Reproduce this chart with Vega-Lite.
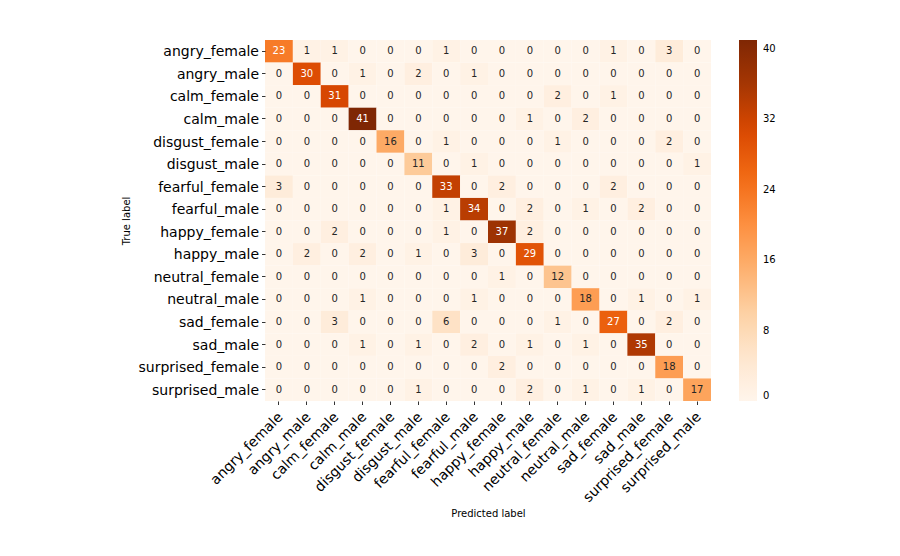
{
  "$schema": "https://vega.github.io/schema/vega-lite/v6.json",
  "width": 446,
  "height": 361,
  "autosize": "none",
  "padding": {"left": 265, "top": 40, "right": 189, "bottom": 155},
  "background": "white",
  "config": {
    "font": "DejaVu Sans",
    "view": {"stroke": null}
  },
  "data": {
    "values": [
      {"t":"angry_female","r":[23,1,1,0,0,0,1,0,0,0,0,0,1,0,3,0]},
      {"t":"angry_male","r":[0,30,0,1,0,2,0,1,0,0,0,0,0,0,0,0]},
      {"t":"calm_female","r":[0,0,31,0,0,0,0,0,0,0,2,0,1,0,0,0]},
      {"t":"calm_male","r":[0,0,0,41,0,0,0,0,0,1,0,2,0,0,0,0]},
      {"t":"disgust_female","r":[0,0,0,0,16,0,1,0,0,0,1,0,0,0,2,0]},
      {"t":"disgust_male","r":[0,0,0,0,0,11,0,1,0,0,0,0,0,0,0,1]},
      {"t":"fearful_female","r":[3,0,0,0,0,0,33,0,2,0,0,0,2,0,0,0]},
      {"t":"fearful_male","r":[0,0,0,0,0,0,1,34,0,2,0,1,0,2,0,0]},
      {"t":"happy_female","r":[0,0,2,0,0,0,1,0,37,2,0,0,0,0,0,0]},
      {"t":"happy_male","r":[0,2,0,2,0,1,0,3,0,29,0,0,0,0,0,0]},
      {"t":"neutral_female","r":[0,0,0,0,0,0,0,0,1,0,12,0,0,0,0,0]},
      {"t":"neutral_male","r":[0,0,0,1,0,0,0,1,0,0,0,18,0,1,0,1]},
      {"t":"sad_female","r":[0,0,3,0,0,0,6,0,0,0,1,0,27,0,2,0]},
      {"t":"sad_male","r":[0,0,0,1,0,1,0,2,0,1,0,1,0,35,0,0]},
      {"t":"surprised_female","r":[0,0,0,0,0,0,0,0,2,0,0,0,0,0,18,0]},
      {"t":"surprised_male","r":[0,0,0,0,0,1,0,0,0,2,0,1,0,1,0,17]}
    ]
  },
  "transform": [
    {"flatten": ["r"], "as": ["v"]},
    {"window": [{"op": "row_number", "as": "i"}], "groupby": ["t"]},
    {"lookup": "i", "from": {"data": {"values": [
      {"i":1,"p":"angry_female"},{"i":2,"p":"angry_male"},{"i":3,"p":"calm_female"},{"i":4,"p":"calm_male"},
      {"i":5,"p":"disgust_female"},{"i":6,"p":"disgust_male"},{"i":7,"p":"fearful_female"},{"i":8,"p":"fearful_male"},
      {"i":9,"p":"happy_female"},{"i":10,"p":"happy_male"},{"i":11,"p":"neutral_female"},{"i":12,"p":"neutral_male"},
      {"i":13,"p":"sad_female"},{"i":14,"p":"sad_male"},{"i":15,"p":"surprised_female"},{"i":16,"p":"surprised_male"}
    ]}, "key": "i", "fields": ["p"]}}
  ],
  "encoding": {
    "x": {
      "field": "p", "type": "nominal", "sort": null,
      "scale": {"domain": ["angry_female","angry_male","calm_female","calm_male","disgust_female","disgust_male","fearful_female","fearful_male","happy_female","happy_male","neutral_female","neutral_male","sad_female","sad_male","surprised_female","surprised_male"], "paddingInner": 0, "paddingOuter": 0},
      "axis": {
        "title": "Predicted label", "titleFontSize": 10, "titleFontWeight": "normal", "titleColor": "#000",
        "labelAngle": -45, "labelAlign": "right", "labelBaseline": "top", "labelFontSize": 14, "labelColor": "#000",
        "labelPadding": 5, "labelOffset": -3, "domain": false, "tickColor": "#000", "tickSize": 3.5, "tickWidth": 0.8, "titlePadding": 4
      }
    },
    "y": {
      "field": "t", "type": "nominal", "sort": null,
      "scale": {"domain": ["angry_female","angry_male","calm_female","calm_male","disgust_female","disgust_male","fearful_female","fearful_male","happy_female","happy_male","neutral_female","neutral_male","sad_female","sad_male","surprised_female","surprised_male"], "paddingInner": 0, "paddingOuter": 0},
      "axis": {
        "title": "True label", "titleFontSize": 10, "titleFontWeight": "normal", "titleColor": "#000",
        "labelFontSize": 14, "labelColor": "#000", "labelPadding": 3, "labelOffset": 1,
        "domain": false, "tickColor": "#000", "tickSize": 3.5, "tickWidth": 0.8, "titlePadding": 6
      }
    }
  },
  "layer": [
    {
      "mark": {"type": "rect"},
      "encoding": {
        "color": {
          "field": "v", "type": "quantitative",
          "scale": {"domain": [0, 41], "nice": false, "range": ["#fff5eb", "#fee6ce", "#fdd0a2", "#fdae6b", "#fd8d3c", "#f16913", "#d94801", "#a63603", "#7f2704"], "interpolate": "rgb"},
          "legend": {
            "title": null, "orient": "none", "legendX": 474, "legendY": 0,
            "gradientLength": 361, "gradientThickness": 18, "direction": "vertical",
            "values": [0, 8, 16, 24, 32, 40], "labelFontSize": 10, "labelColor": "#000",
            "labelOffset": 6, "gradientStrokeWidth": 0
          }
        }
      }
    },
    {
      "mark": {"type": "text", "fontSize": 10},
      "encoding": {
        "text": {"field": "v", "type": "quantitative"},
        "color": {"condition": {"test": "datum.v > 20", "value": "white"}, "value": "#262626"}
      }
    }
  ]
}
